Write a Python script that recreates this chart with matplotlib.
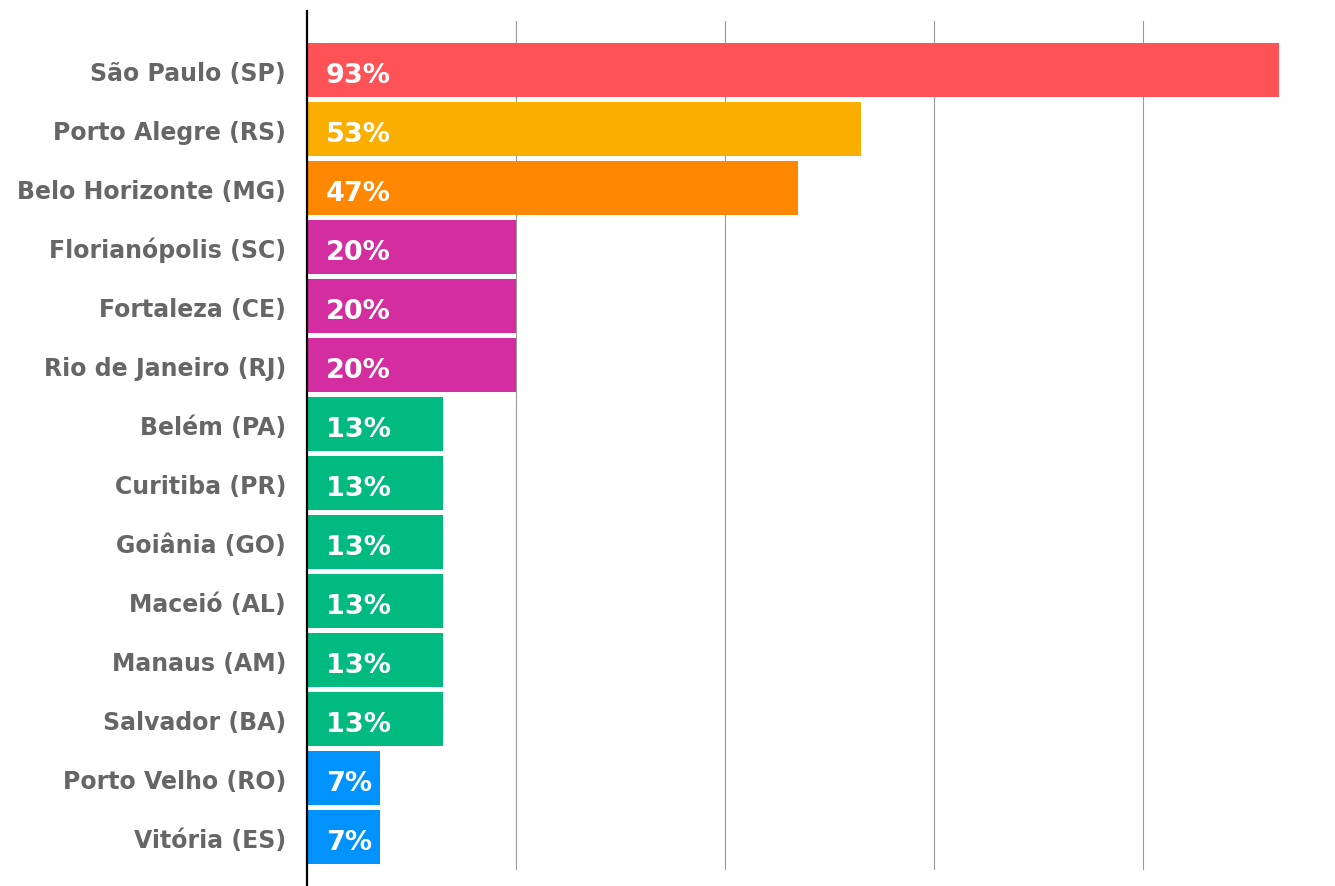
import matplotlib
matplotlib.use("Agg")
import matplotlib.pyplot as plt
from matplotlib.lines import Line2D

# =========================
# DATA
# =========================
cities = ["São Paulo (SP)", "Porto Alegre (RS)", "Belo Horizonte (MG)",
          "Florianópolis (SC)", "Fortaleza (CE)", "Rio de Janeiro (RJ)",
          "Belém (PA)", "Curitiba (PR)", "Goiânia (GO)", "Maceió (AL)",
          "Manaus (AM)", "Salvador (BA)", "Porto Velho (RO)", "Vitória (ES)"]
values = [93, 53, 47, 20, 20, 20, 13, 13, 13, 13, 13, 13, 7, 7]
colors = ["#FF5257", "#F9AE00", "#FF8800",
          "#D42D9F", "#D42D9F", "#D42D9F",
          "#00BA7F", "#00BA7F", "#00BA7F", "#00BA7F", "#00BA7F", "#00BA7F",
          "#0093FF", "#0093FF"]
grid_ticks = [20, 40, 60, 80]

# =========================
# FIGURE
# =========================
W, H = 1335, 886
fig = plt.figure(figsize=(W / 100, H / 100), dpi=100)
fig.patch.set_facecolor("white")

# axes placed in pixel terms
x0_px, unit_px = 307, 10.455
top_px, bot_px = 21, 870
xmax = 98
ax = fig.add_axes([x0_px / W, (H - bot_px) / H,
                   xmax * unit_px / W, (bot_px - top_px) / H])

PT = 0.72  # points per pixel at dpi 100
ypos = list(range(len(cities)))
ax.barh(ypos, values, height=54 / 59, color=colors, zorder=2)

for y, v in zip(ypos, values):
    ax.annotate(f"{v}%", xy=(0, y), xytext=(19 * PT, -13 * PT), textcoords="offset points",
                ha="left", va="baseline", color="white", fontsize=19.5,
                fontweight="bold", family="DejaVu Sans", zorder=3)

# city labels, drawn as text so the baseline can be placed
for y, c in zip(ypos, cities):
    ax.annotate(c, xy=(0, y), xytext=(-21 * PT, -11.3 * PT), textcoords="offset points",
                ha="right", va="baseline", color="#666666", fontsize=17,
                fontweight="bold", family="DejaVu Sans", annotation_clip=False)

ax.set_xlim(0, xmax)
ax.set_ylim(13 + 33 / 59, -49 / 59)
ax.set_xticks(grid_ticks)
ax.set_xticklabels([])
ax.set_yticks([])
ax.tick_params(axis="x", length=0)
ax.grid(axis="x", color="#999999", linewidth=0.8, zorder=0)
ax.set_axisbelow(True)

for s in ax.spines.values():
    s.set_visible(False)

# vertical axis line, runs past the plot area
fig.add_artist(Line2D([x0_px / W, x0_px / W], [0, (H - 11) / H],
                      transform=fig.transFigure, color="black", linewidth=1.6, zorder=5))

fig.savefig("out.png", dpi=100, facecolor="white")
